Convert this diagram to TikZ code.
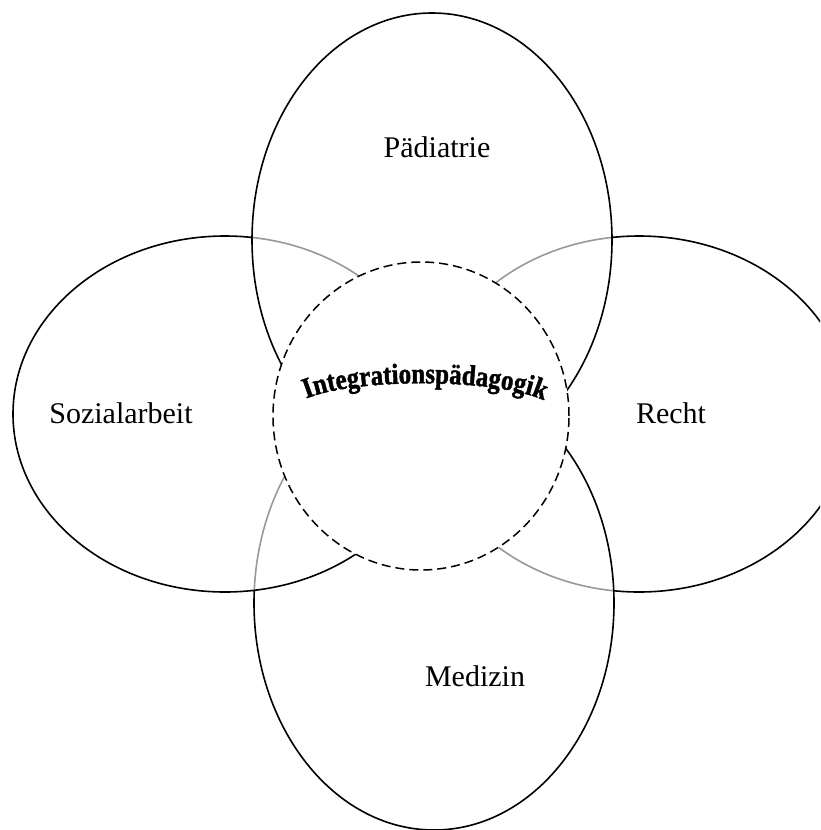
\documentclass[tikz,border=0pt]{standalone}
\usepackage{fontspec}
\setmainfont{Liberation Serif}
\newfontfamily\archfont[FakeStretch=0.86, BoldFeatures={FakeBold=1.4}]{Liberation Serif}
\usetikzlibrary{shapes.geometric,decorations.text}
\tikzset{
  field/.style={ellipse, draw=black, line width=1.6pt, fill=white, fill opacity=0.6,
                inner sep=0pt, outer sep=0pt},
  core/.style={ellipse, draw=black, line width=1.5pt, fill=white,
               dash pattern=on 9pt off 5pt, inner sep=0pt, outer sep=0pt},
  tag/.style={font=\fontsize{30}{36}\selectfont, inner sep=0pt}
}
\begin{document}
\begin{tikzpicture}[x=1pt, y=-1pt]
  \useasboundingbox (0,0) rectangle (820,830);
  \clip (0,0) rectangle (820,830);
  % the four fields, lowest first; translucent fills grey out hidden arcs
  \node[field, minimum width=424pt, minimum height=356pt] (recht) at (639,414) {};
  \node[field, minimum width=360pt, minimum height=454pt] (medizin) at (434,603) {};
  \node[field, minimum width=424pt, minimum height=356pt] (sozial) at (225,414) {};
  \node[field, minimum width=360pt, minimum height=454pt] (paed) at (432,240) {};
  % the common core
  \node[core, minimum width=296pt, minimum height=308pt] (kern) at (421,416) {};
  % field labels
  \node[tag] (lpaed) at (437,147) {Pädiatrie};
  \node[tag] (lsozial) at (121,413) {Sozialarbeit};
  \node[tag] (lrecht) at (671,413) {Recht};
  \node[tag] (lmedizin) at (475,676) {Medizin};
  % arched title inside the core
  \path[decorate, decoration={text along path, text align=center,
        text={|\archfont\bfseries\fontsize{29}{32}\selectfont|Integrationspädagogik}}]
    (296,404) .. controls (336,376) and (514,376) .. (554,406);
\end{tikzpicture}
\end{document}
